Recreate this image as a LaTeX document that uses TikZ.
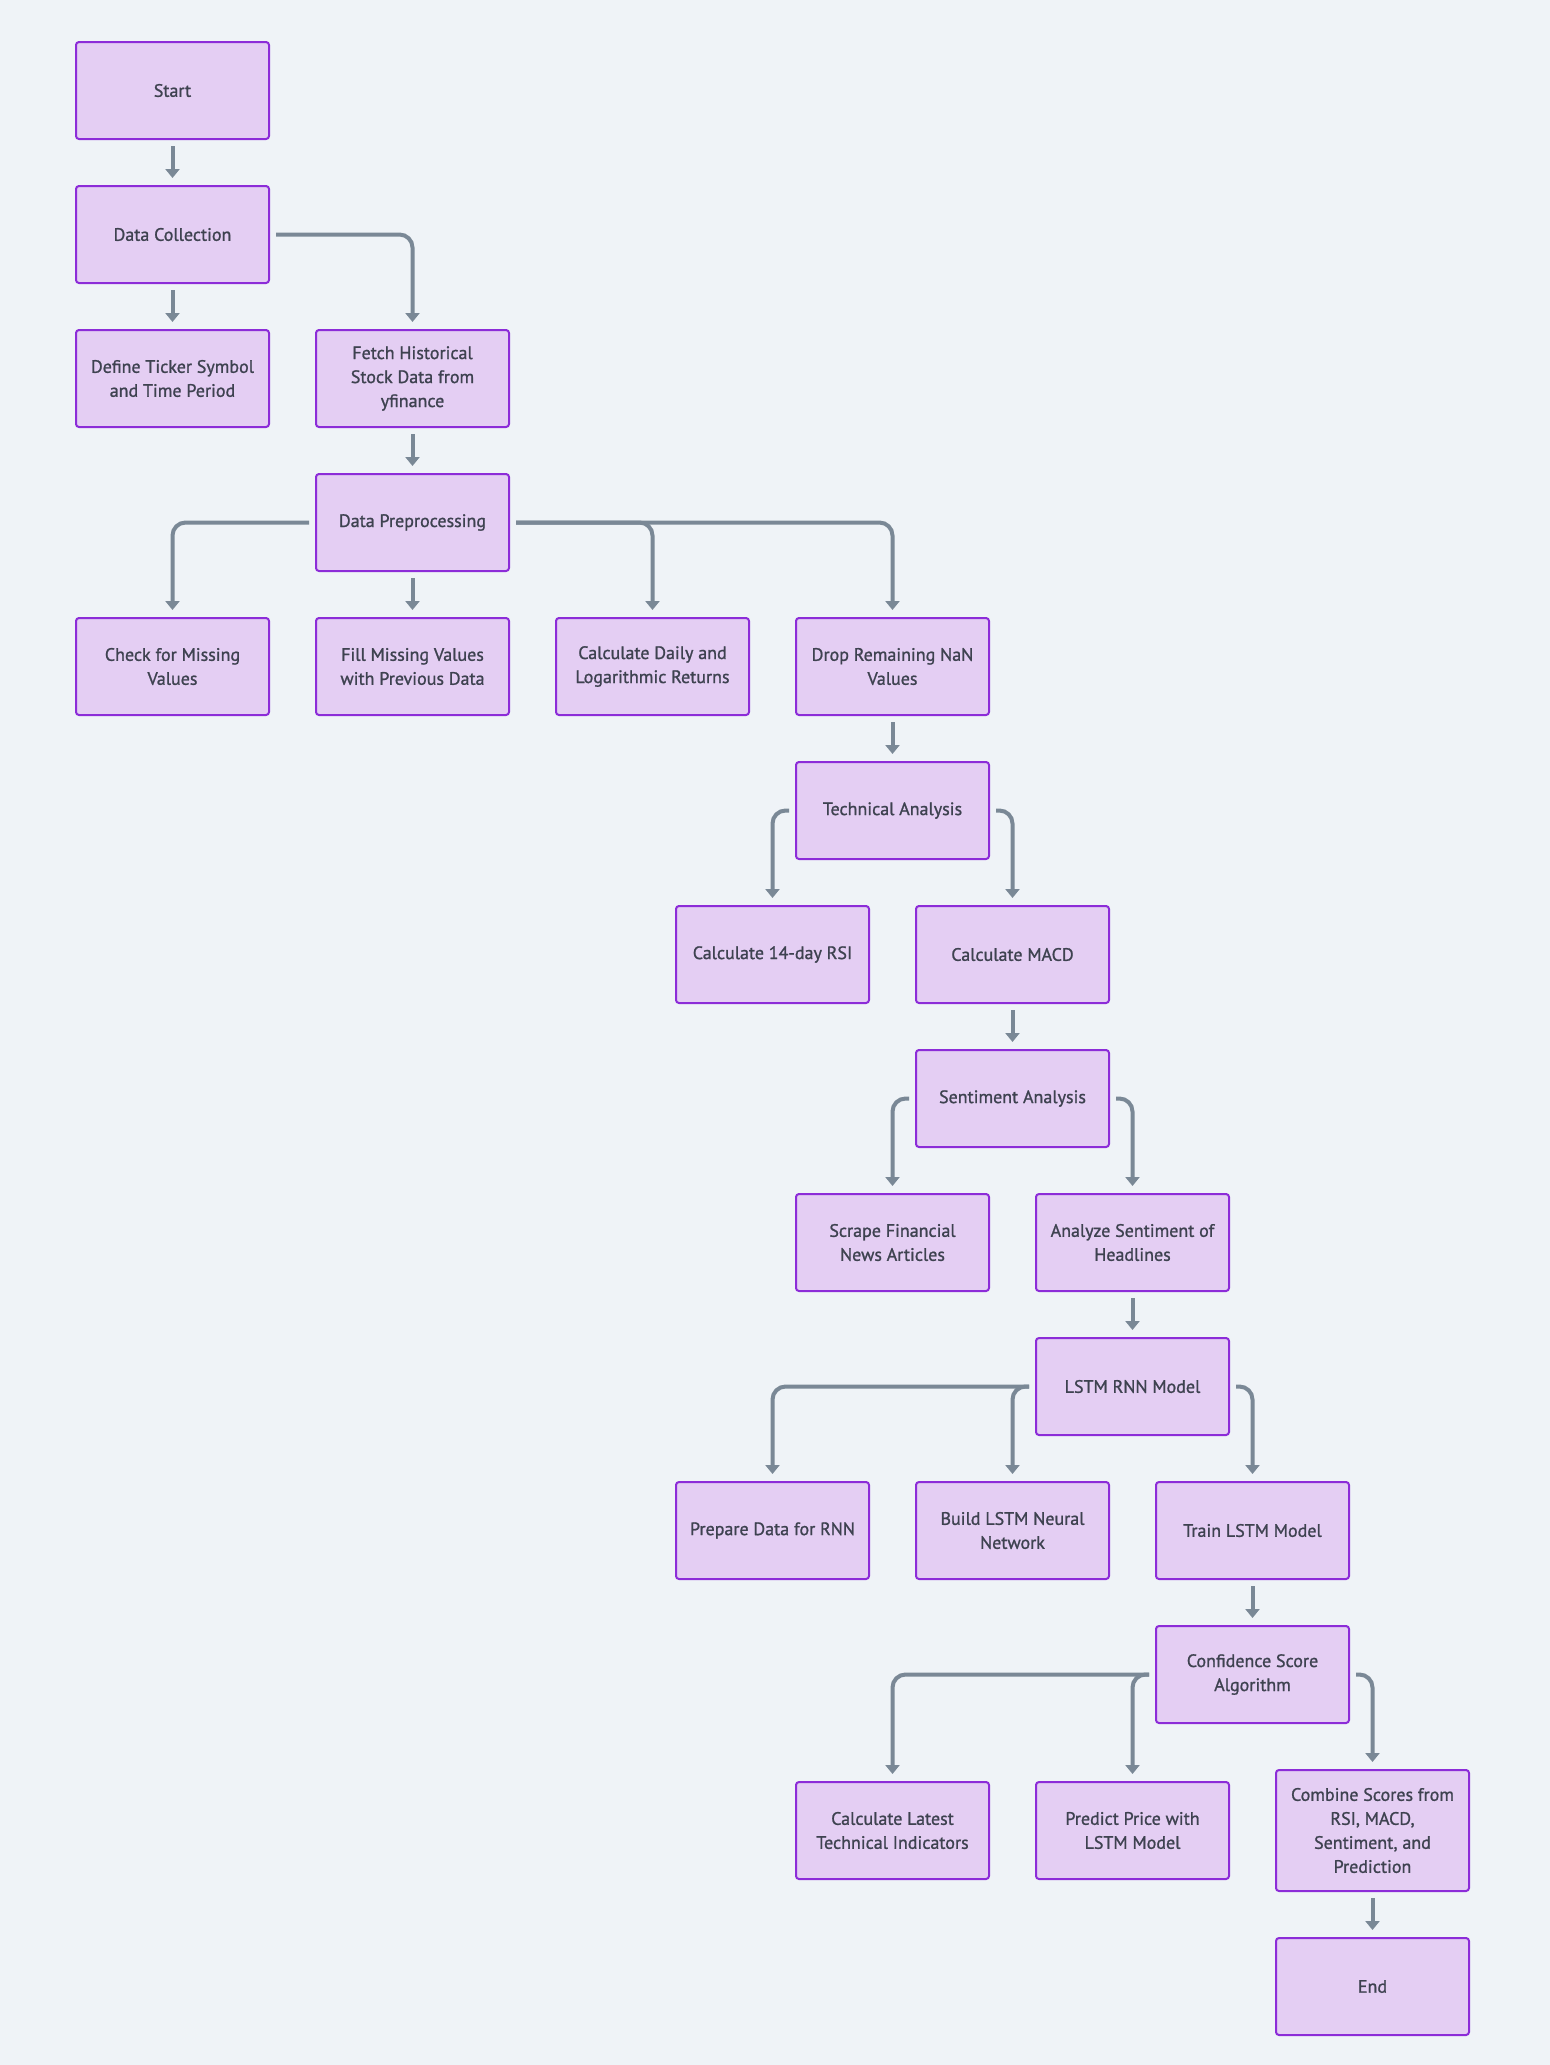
\documentclass[tikz,border=0pt]{standalone}
\usepackage{fontspec}
\setmainfont{PT Sans}[FakeBold=1.1]
\usetikzlibrary{arrows.meta}
\definecolor{bgcol}{RGB}{239,243,247}
\definecolor{boxfill}{RGB}{228,206,243}
\definecolor{boxline}{RGB}{140,44,216}
\definecolor{linkcol}{RGB}{122,136,150}
\definecolor{txtcol}{RGB}{62,66,80}
\tikzset{
  stepbox/.style={draw=boxline, fill=boxfill, line width=2pt, rounded corners=3pt,
    minimum width=193pt, minimum height=97pt, inner sep=0pt, align=center,
    text=txtcol, font=\fontsize{18}{24}\selectfont},
  tallbox/.style={stepbox, minimum height=121pt},
  link/.style={draw=linkcol, line width=4pt, rounded corners=13pt,
    -{Triangle[width=14pt,length=9pt]}, shorten <=6pt, shorten >=7pt},
}
\begin{document}
\begin{tikzpicture}[x=1pt,y=-1pt]
\fill[bgcol] (0,0) rectangle (1550,2065);
\useasboundingbox (0,0) rectangle (1550,2065);

% column centres: 172.5 + 240*c ; row centres: 90.5 + 144*r
\node[stepbox] (start)   at (172.5,90.5)   {Start};
\node[stepbox] (collect) at (172.5,234.5)  {Data Collection};
\node[stepbox] (ticker)  at (172.5,378.5)  {Define Ticker Symbol\\and Time Period};
\node[stepbox] (fetch)   at (412.5,378.5)  {Fetch Historical\\Stock Data from\\yfinance};
\node[stepbox] (prep)    at (412.5,522.5)  {Data Preprocessing};
\node[stepbox] (check)   at (172.5,666.5)  {Check for Missing\\Values};
\node[stepbox] (fill)    at (412.5,666.5)  {Fill Missing Values\\with Previous Data};
\node[stepbox] (returns) at (652.5,666.5)  {Calculate Daily and\\Logarithmic Returns};
\node[stepbox] (dropnan) at (892.5,666.5)  {Drop Remaining NaN\\Values};
\node[stepbox] (tech)    at (892.5,810.5)  {Technical Analysis};
\node[stepbox] (rsi)     at (772.5,954.5)  {Calculate 14-day RSI};
\node[stepbox] (macd)    at (1012.5,954.5) {Calculate MACD};
\node[stepbox] (senti)   at (1012.5,1098.5){Sentiment Analysis};
\node[stepbox] (scrape)  at (892.5,1242.5) {Scrape Financial\\News Articles};
\node[stepbox] (analyze) at (1132.5,1242.5){Analyze Sentiment of\\Headlines};
\node[stepbox] (lstm)    at (1132.5,1386.5){LSTM RNN Model};
\node[stepbox] (prepare) at (772.5,1530.5) {Prepare Data for RNN};
\node[stepbox] (build)   at (1012.5,1530.5){Build LSTM Neural\\Network};
\node[stepbox] (train)   at (1252.5,1530.5){Train LSTM Model};
\node[stepbox] (conf)    at (1252.5,1674.5){Confidence Score\\Algorithm};
\node[stepbox] (latest)  at (892.5,1830.5) {Calculate Latest\\Technical Indicators};
\node[stepbox] (predict) at (1132.5,1830.5){Predict Price with\\LSTM Model};
\node[tallbox] (combine) at (1372.5,1830.5){Combine Scores from\\RSI, MACD,\\Sentiment, and\\Prediction};
\node[stepbox] (finish)  at (1372.5,1986.5){End};

% straight links
\draw[link] (start) -- (collect);
\draw[link] (collect) -- (ticker);
\draw[link] (fetch) -- (prep);
\draw[link] (prep) -- (fill);
\draw[link] (dropnan) -- (tech);
\draw[link] (macd) -- (senti);
\draw[link] (analyze) -- (lstm);
\draw[link] (train) -- (conf);
\draw[link] (combine) -- (finish);

% branching links
\draw[link] (collect.east) -| (fetch.north);
\draw[link] (prep.west) -| (check.north);
\draw[link] (prep.east) -| (returns.north);
\draw[link] (prep.east) -| (dropnan.north);
\draw[link] (tech.west) -| (rsi.north);
\draw[link] (tech.east) -| (macd.north);
\draw[link] (senti.west) -| (scrape.north);
\draw[link] (senti.east) -| (analyze.north);
\draw[link] (lstm.west) -| (prepare.north);
\draw[link] (lstm.west) -| (build.north);
\draw[link] (lstm.east) -| (train.north);
\draw[link] (conf.west) -| (latest.north);
\draw[link] (conf.west) -| (predict.north);
\draw[link] (conf.east) -| (combine.north);
\end{tikzpicture}
\end{document}
